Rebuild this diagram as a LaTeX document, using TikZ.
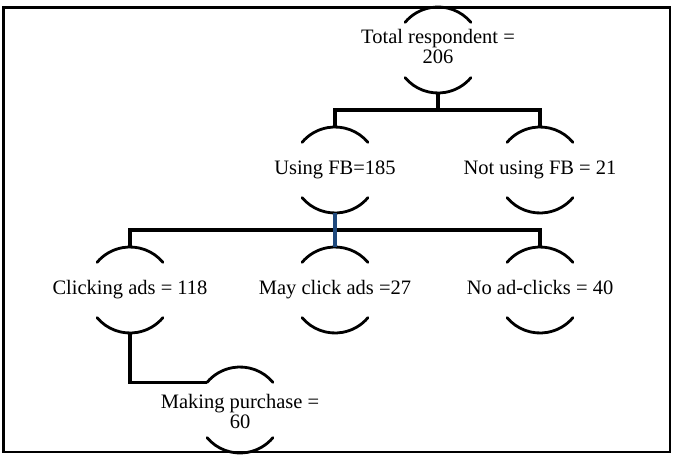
\documentclass[tikz,border=0pt]{standalone}
\usepackage{fontspec}
\setmainfont{Liberation Serif}
\definecolor{fbblue}{RGB}{31,73,125}
\newcommand\nodearcs[1]{%
  \draw[arcline] (#1.40) arc[start angle=40,end angle=140,radius=43];
  \draw[arcline] (#1.220) arc[start angle=220,end angle=320,radius=43];}
\begin{document}
\begin{tikzpicture}[x=1pt,y=1pt,
  cnode/.style={circle,minimum size=86pt,inner sep=0pt,outer sep=0pt,
    font=\fontsize{20.5}{20}\selectfont},
  arcline/.style={line width=2.8pt,line cap=round},
  conn/.style={line width=3.2pt},
  bluelink/.style={line width=3.2pt,draw=fbblue},
  frame/.style={line width=2.8pt}]
\useasboundingbox (0,0) rectangle (690,456);
\draw[frame] (3.5,4) rectangle (670,448.5);
% nodes
\node[cnode] (total) at (438,406) {\clap{\raisebox{-5pt}[0pt][0pt]{\begin{tabular}{@{}c@{}}Total respondent =\\206\end{tabular}}}};
\node[cnode] (using) at (335,286) {\clap{\strut Using FB=185}};
\node[cnode] (notfb) at (540,286) {\clap{\strut Not using FB = 21}};
\node[cnode] (click) at (130,166) {\clap{\strut Clicking ads = 118}};
\node[cnode] (may) at (335,166) {\clap{\strut May click ads =27}};
\node[cnode] (noad) at (540,166) {\clap{\strut No ad-clicks = 40}};
\node[cnode] (make) at (240,46) {\clap{\raisebox{-10pt}[0pt][0pt]{\begin{tabular}{@{}c@{}}Making purchase =\\60\end{tabular}}}};
\nodearcs{total}
\nodearcs{using}
\nodearcs{notfb}
\nodearcs{click}
\nodearcs{may}
\nodearcs{noad}
\nodearcs{make}
% connectors
\coordinate (j1) at (438,346);
\coordinate (j2) at (335,226);
\draw[conn] (total.south) -- (j1);
\draw[conn] (using.north) |- (j1) -| (notfb.north);
\draw[conn] (click.north) |- (j2) -| (noad.north);
\draw[bluelink] (using.south) -- (may.north);
\draw[conn] (click.south) |- (make.140);
\end{tikzpicture}
\end{document}
